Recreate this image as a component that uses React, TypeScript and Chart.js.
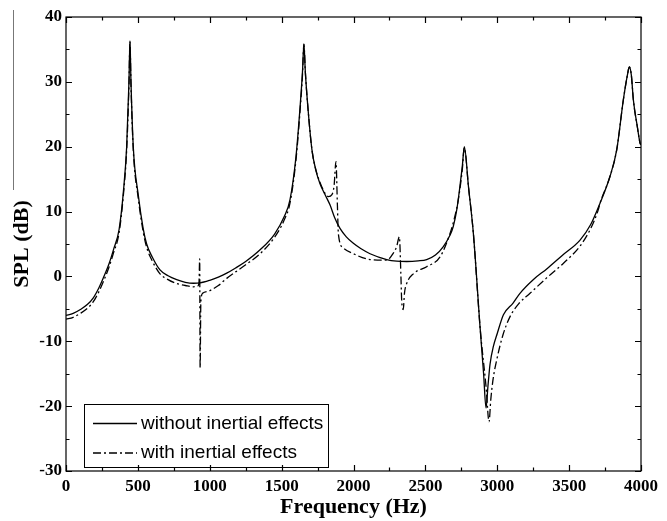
import React, { useEffect, useRef } from "react";
import { Chart, registerables } from "chart.js";

Chart.register(...registerables);

const freqWithout = [0, 50, 100, 150, 190, 230, 260, 300, 330, 369, 399, 422, 438, 445, 452, 468, 503, 536, 561, 600, 654, 710, 770, 830, 886, 932, 1000, 1060, 1118, 1180, 1250, 1350, 1450, 1520, 1558, 1600, 1628, 1645, 1655, 1665, 1683, 1711, 1740, 1767, 1800, 1837, 1870, 1906, 1950, 1999, 2050, 2115, 2231, 2300, 2370, 2450, 2509, 2570, 2625, 2670, 2694, 2720, 2741, 2757, 2771, 2800, 2834, 2880, 2905, 2922, 2935, 2950, 2973, 3000, 3043, 3110, 3158, 3250, 3346, 3450, 3576, 3650, 3715, 3784, 3831, 3877, 3905, 3919, 3933, 3947, 3975, 3993, 4000];
const splWithout = [-6.0, -5.7, -5.1, -4.3, -3.3, -1.7, -0.2, 2.0, 4.1, 7.2, 13.0, 20.0, 30.0, 36.3, 30.0, 20.0, 12.5, 7.5, 5.0, 3.0, 1.0, 0.1, -0.5, -0.9, -1.05, -1.0, -0.6, -0.1, 0.5, 1.3, 2.3, 4.1, 6.5, 9.3, 11.8, 18.5, 26.0, 31.5, 35.8, 31.5, 26.0, 19.5, 16.2, 14.3, 12.7, 11.0, 9.0, 7.4, 6.1, 5.1, 4.3, 3.5, 2.6, 2.35, 2.3, 2.4, 2.6, 3.3, 4.6, 6.3, 7.7, 10.5, 14.0, 17.0, 20.0, 13.8, 6.6, -7.7, -15.0, -20.3, -17.0, -13.5, -10.8, -8.8, -5.9, -4.1, -2.6, -0.5, 1.2, 3.2, 5.6, 8.0, 11.3, 15.4, 19.5, 27.2, 31.0, 32.3, 31.0, 27.2, 23.0, 20.6, 20.3];

const freqWith = [0, 50, 100, 150, 190, 230, 260, 300, 330, 369, 399, 422, 438, 445, 452, 468, 503, 536, 561, 600, 654, 710, 770, 830, 886, 915, 925, 930, 933, 938, 950, 1000, 1060, 1118, 1180, 1250, 1350, 1450, 1520, 1558, 1600, 1628, 1645, 1655, 1665, 1683, 1711, 1740, 1767, 1800, 1825, 1850, 1865, 1878, 1888, 1895, 1929, 1999, 2115, 2231, 2277, 2300, 2319, 2330, 2335, 2346, 2355, 2370, 2416, 2509, 2602, 2671, 2700, 2729, 2757, 2771, 2800, 2834, 2880, 2922, 2943, 2955, 2970, 2996, 3040, 3089, 3150, 3228, 3340, 3459, 3580, 3650, 3703, 3715, 3784, 3831, 3877, 3905, 3919, 3933, 3947, 3975, 3993, 4000];
const splWith = [-6.6, -6.3, -5.7, -4.9, -3.9, -2.3, -0.8, 1.5, 3.6, 6.7, 12.5, 19.5, 29.5, 36.2, 29.5, 19.5, 12.0, 7.0, 4.5, 2.4, 0.4, -0.5, -1.1, -1.4, -1.6, -1.5, -1.0, 2.7, -14.1, -4.0, -2.6, -2.2, -1.4, -0.3, 0.7, 1.8, 3.5, 6.0, 8.8, 11.3, 18.0, 25.5, 31.0, 35.8, 31.5, 26.0, 19.5, 16.3, 14.5, 12.9, 12.3, 12.6, 14.0, 17.7, 11.0, 6.5, 4.4, 3.5, 2.6, 2.5, 3.6, 4.6, 6.1, 0, -3.6, -5.1, -2.5, -1.1, 0.4, 1.5, 3.0, 6.6, 8.8, 11.8, 16.5, 19.8, 13.8, 6.6, -7.7, -17.0, -22.4, -19.0, -16.0, -12.9, -9.0, -6.2, -4.2, -2.6, -0.3, 2.0, 4.8, 7.4, 10.3, 11.3, 15.4, 19.5, 27.2, 31.0, 32.3, 31.0, 27.2, 23.0, 20.6, 20.3];

const seriesLabels = ["without inertial effects", "with inertial effects"];
const xTicks = [0, 500, 1000, 1500, 2000, 2500, 3000, 3500, 4000];
const yTicks = [-30, -20, -10, 0, 10, 20, 30, 40];

const DASH_DOT = [8, 3, 2, 3];

const framePlugin = {
  id: "framePlugin",
  afterDraw(chart: any) {
    const { ctx, chartArea: ca, scales } = chart;
    const xs = scales.x;
    const ys = scales.y;
    ctx.save();
    ctx.strokeStyle = "#000";
    ctx.lineWidth = 1.2;
    ctx.setLineDash([]);
    ctx.strokeRect(ca.left, ca.top, ca.right - ca.left, ca.bottom - ca.top);
    for (let v = 0; v <= 4000; v += 250) {
      const px = Math.round(xs.getPixelForValue(v)) + 0.5;
      const len = v % 500 === 0 ? 6 : 3.5;
      ctx.beginPath();
      ctx.moveTo(px, ca.bottom);
      ctx.lineTo(px, ca.bottom - len);
      ctx.moveTo(px, ca.top);
      ctx.lineTo(px, ca.top + len);
      ctx.stroke();
    }
    for (let v = -30; v <= 40; v += 5) {
      const py = Math.round(ys.getPixelForValue(v)) + 0.5;
      const len = v % 10 === 0 ? 6 : 3.5;
      ctx.beginPath();
      ctx.moveTo(ca.left, py);
      ctx.lineTo(ca.left + len, py);
      ctx.moveTo(ca.right, py);
      ctx.lineTo(ca.right - len, py);
      ctx.stroke();
    }
    const bx = ca.left + 18;
    const bh = 63;
    const by = ca.bottom - 4 - bh;
    const bw = 244;
    ctx.lineWidth = 1;
    ctx.strokeRect(bx + 0.5, by + 0.5, bw, bh);
    ctx.font = "19px 'Liberation Sans', Arial, sans-serif";
    ctx.fillStyle = "#000";
    ctx.textBaseline = "middle";
    ctx.textAlign = "left";
    chart.data.datasets.forEach((ds: any, i: number) => {
      const ry = by + 19.5 + i * 29.5;
      ctx.lineWidth = 1.3;
      ctx.setLineDash(ds.borderDash || []);
      ctx.beginPath();
      ctx.moveTo(bx + 9, ry);
      ctx.lineTo(bx + 53, ry);
      ctx.stroke();
      ctx.setLineDash([]);
      ctx.fillText(ds.label, bx + 57, ry);
    });
    ctx.strokeStyle = "#777";
    ctx.lineWidth = 1;
    ctx.beginPath();
    ctx.moveTo(13.5, 10);
    ctx.lineTo(13.5, 190);
    ctx.stroke();
    ctx.restore();
  },
};

export default function App() {
  const ref = useRef<HTMLCanvasElement | null>(null);
  useEffect(() => {
    if (!ref.current) return;
    const tickFont = { family: "'Liberation Serif', 'Times New Roman', serif", size: 17, weight: "bold" as const };
    const titleFont = { family: "'Liberation Serif', 'Times New Roman', serif", size: 22, weight: "bold" as const };
    const chart = new Chart(ref.current, {
      type: "line",
      data: {
        datasets: [
          {
            label: seriesLabels[0],
            data: freqWithout.map((f, i) => ({ x: f, y: splWithout[i] })),
            borderColor: "#000",
            borderWidth: 1.3,
            pointRadius: 0,
            cubicInterpolationMode: "monotone",
            fill: false,
          },
          {
            label: seriesLabels[1],
            data: freqWith.map((f, i) => ({ x: f, y: splWith[i] })),
            borderColor: "#000",
            borderWidth: 1.3,
            borderDash: DASH_DOT,
            pointRadius: 0,
            cubicInterpolationMode: "monotone",
            fill: false,
          },
        ],
      },
      options: {
        responsive: false,
        animation: false,
        layout: { padding: { left: 0, right: 26, top: 17, bottom: 0 } },
        plugins: { legend: { display: false }, tooltip: { enabled: false } },
        scales: {
          x: {
            type: "linear",
            min: 0,
            max: 4000,
            afterBuildTicks: (s: any) => { s.ticks = xTicks.map((v) => ({ value: v })); },
            afterFit: (s: any) => { s.height = 50; },
            grid: { display: false, drawTicks: false, tickLength: 0 },
            border: { display: false },
            ticks: { font: tickFont, color: "#000", padding: 5, maxRotation: 0, autoSkip: false, callback: (v: any) => String(v) },
            title: { display: true, text: "Frequency (Hz)", font: titleFont, color: "#000", padding: { top: 0, bottom: 0 } },
          },
          y: {
            type: "linear",
            min: -30,
            max: 40,
            afterBuildTicks: (s: any) => { s.ticks = yTicks.map((v) => ({ value: v })); },
            afterFit: (s: any) => { s.width = 66; },
            grid: { display: false, drawTicks: false, tickLength: 0 },
            border: { display: false },
            ticks: { font: tickFont, color: "#000", padding: 4, autoSkip: false, callback: (v: any) => String(v) },
            title: { display: true, text: "SPL (dB)", font: titleFont, color: "#000", padding: { top: 9, bottom: 0 } },
          },
        },
      },
      plugins: [framePlugin],
    });
    return () => chart.destroy();
  }, []);
  return (
    <div style={{ position: "fixed", left: 0, top: 0, width: 667, height: 521, background: "#fff" }}>
      <canvas ref={ref} width={667} height={521} style={{ display: "block" }} />
    </div>
  );
}
